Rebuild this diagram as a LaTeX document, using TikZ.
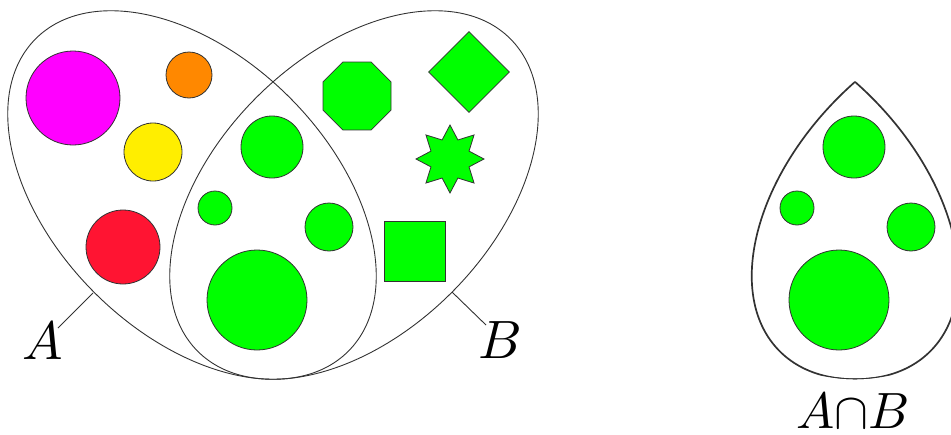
\documentclass[tikz,border=0pt]{standalone}
\usetikzlibrary{shapes.geometric}
\definecolor{gr}{RGB}{0,255,0}
\definecolor{mag}{RGB}{255,0,255}
\definecolor{org}{RGB}{255,136,0}
\definecolor{yel}{RGB}{255,238,0}
\definecolor{rd}{RGB}{255,20,50}
\definecolor{ln}{RGB}{50,50,50}
\tikzset{
  dot/.style={circle,draw=ln,line width=0.8pt,inner sep=0pt,minimum size=#1},
  gshape/.style={draw=ln,line width=0.8pt,fill=gr,inner sep=0pt},
  setline/.style={draw=ln,line width=0.9pt},
  lbl/.style={scale=5.4,inner sep=0pt},
  pointer/.style={draw=ln,line width=0.9pt}
}
\begin{document}
\begin{tikzpicture}[x=1pt,y=-1pt]
\useasboundingbox (0,0) rectangle (951,434);
% sets
\draw[setline,rotate around={-45:(192,195)}] (192,195) ellipse (221pt and 138pt);
\draw[setline,rotate around={45:(354,195)}] (354,195) ellipse (221pt and 138pt);
% A-only circles
\node[dot=94pt,fill=mag] (m) at (73,98) {};
\node[dot=46pt,fill=org] (o) at (189,75) {};
\node[dot=58pt,fill=yel] (y) at (153,152) {};
\node[dot=74pt,fill=rd] (r) at (123,247) {};
% intersection circles
\node[dot=62pt,fill=gr] (g1) at (272,147) {};
\node[dot=34pt,fill=gr] (g2) at (215,208) {};
\node[dot=48pt,fill=gr] (g3) at (329,227) {};
\node[dot=100pt,fill=gr] (g4) at (257,300) {};
% B-only shapes
\node[gshape,regular polygon,regular polygon sides=8,minimum size=73.6pt] (oct) at (357,96) {};
\node[gshape,diamond,minimum width=81pt,minimum height=81pt] (dia) at (469,72) {};
\node[gshape,star,star points=8,star point ratio=1.65,minimum size=68pt] (st) at (450,159) {};
\node[gshape,rectangle,minimum width=61pt,minimum height=60pt] (sq) at (415,251) {};
% labels
\coordinate (pa) at (93,293);
\coordinate (pb) at (452,292);
\node[lbl] (la) at (43,341) {$A$};
\node[lbl] (lb) at (500,340) {$B$};
\draw[pointer] (pa) -- (58,328);
\draw[pointer] (pb) -- (486,325);
% intersection copy
\begin{scope}[shift={(582,0)}]
  \begin{scope}
    \clip[rotate around={-45:(192,195)}] (192,195) ellipse (221pt and 138pt);
    \draw[draw=ln,line width=1.7pt,rotate around={45:(354,195)}] (354,195) ellipse (221pt and 138pt);
  \end{scope}
  \begin{scope}
    \clip[rotate around={45:(354,195)}] (354,195) ellipse (221pt and 138pt);
    \draw[draw=ln,line width=1.7pt,rotate around={-45:(192,195)}] (192,195) ellipse (221pt and 138pt);
  \end{scope}
  \node[dot=62pt,fill=gr] (h1) at (272,147) {};
  \node[dot=34pt,fill=gr] (h2) at (215,208) {};
  \node[dot=48pt,fill=gr] (h3) at (329,227) {};
  \node[dot=100pt,fill=gr] (h4) at (257,300) {};
\end{scope}
\node[scale=5.1,inner sep=0pt,anchor=base] (lab) at (853,428) {$A{\cap}B$};
\end{tikzpicture}
\end{document}
